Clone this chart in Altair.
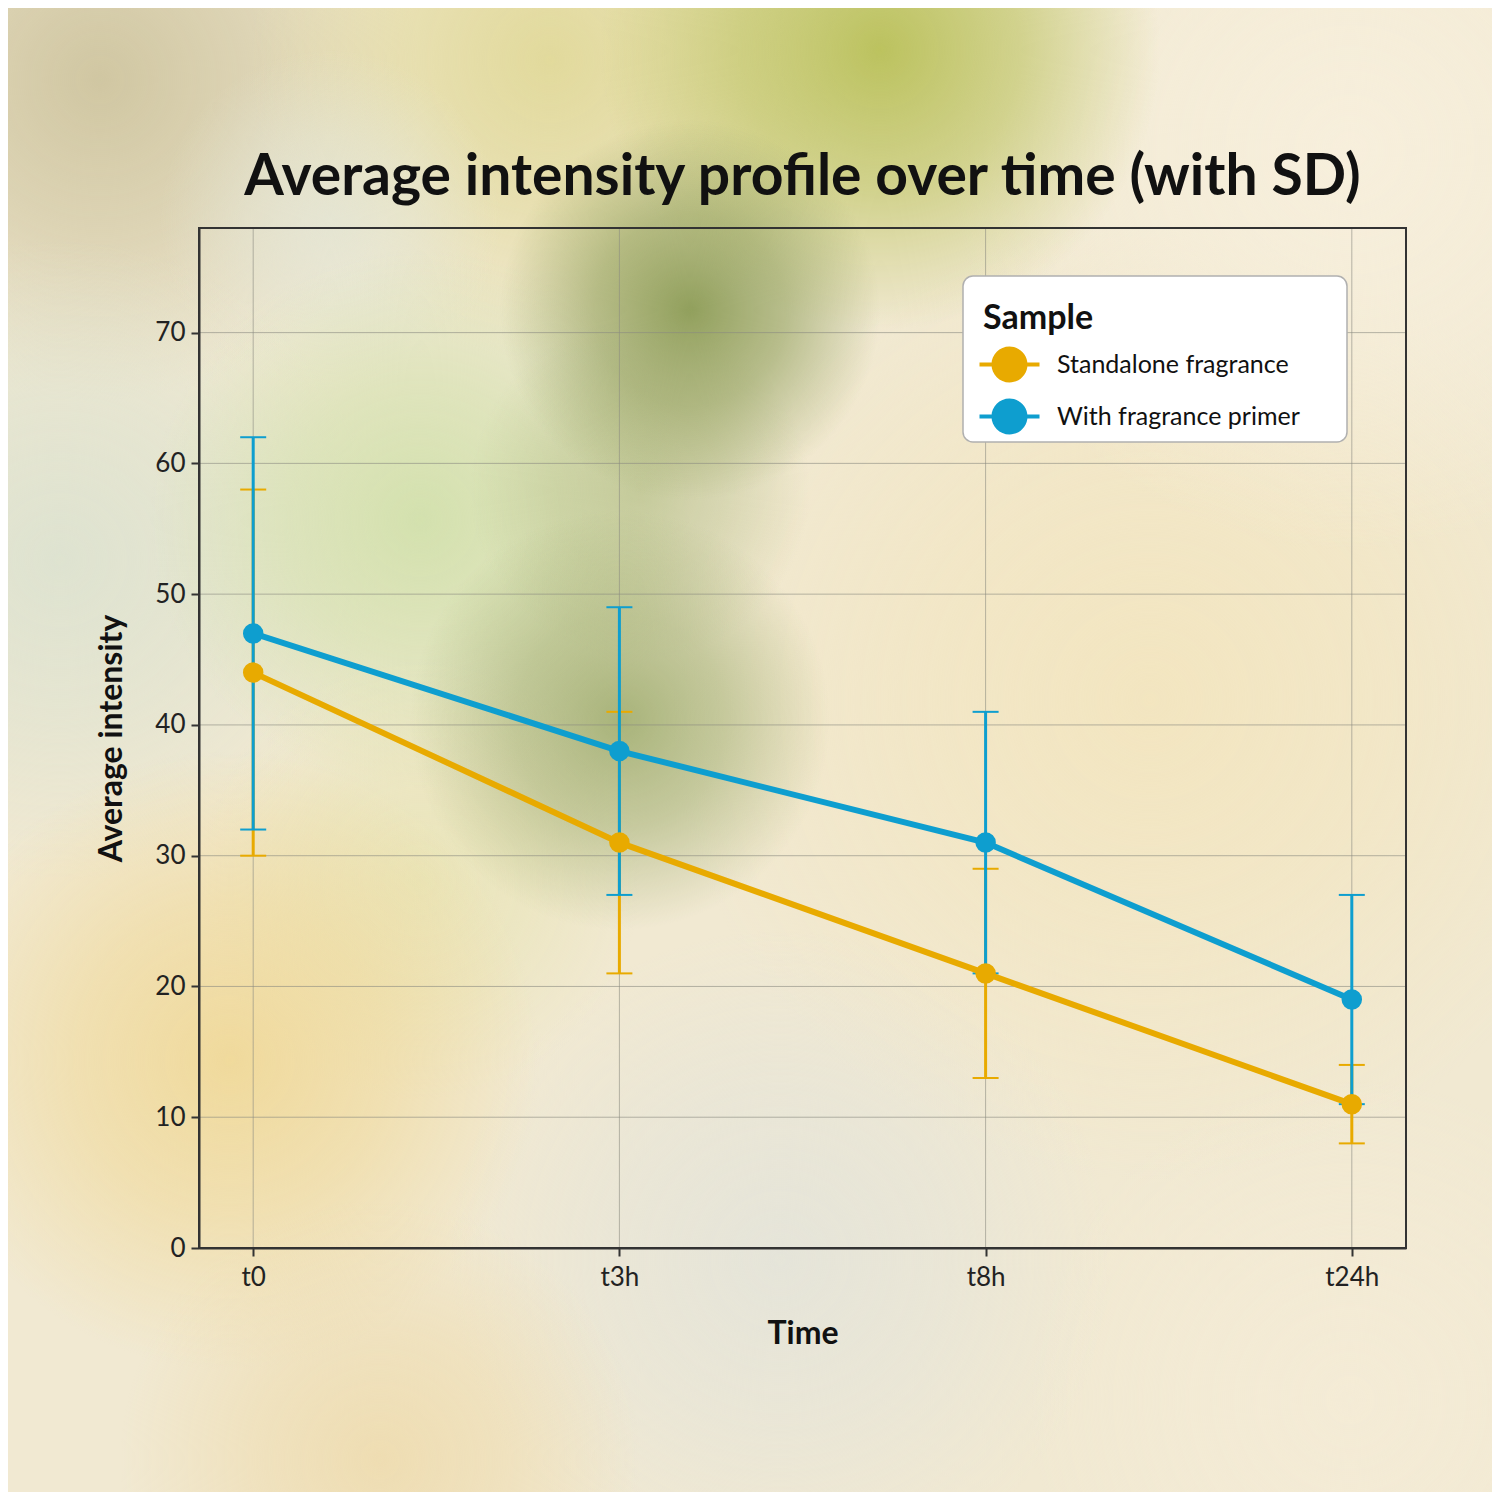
import altair as alt
import pandas as pd

# ---- data ----
title_text = "Average intensity profile over time (with SD)"
times = ["t0", "t3h", "t8h", "t24h"]
samples = ["Standalone fragrance", "With fragrance primer"]
standalone_mean = [44, 31, 21, 11]
standalone_sd = [14, 10, 8, 3]
primer_mean = [47, 38, 31, 19]
primer_sd = [15, 11, 10, 8]
y_ticks = [0, 10, 20, 30, 40, 50, 60, 70]
colors = ["#E8AA00", "#0E9ECF"]

rows = []
for s, means, sds in [(samples[0], standalone_mean, standalone_sd),
                      (samples[1], primer_mean, primer_sd)]:
    for t, m, sd in zip(times, means, sds):
        rows.append({"Time": t, "Sample": s, "mean": m, "lo": m - sd, "hi": m + sd})
df = pd.DataFrame(rows)

# ---- layout ----
W, H = 1207, 1020
PL, PT = 191, 220
PR = 1484 - PL - W
PB = 1484 - PT - H
OX, OY = PL + 8, PT + 8  # page position of plot origin
FONT = "Lato"

x_enc = alt.X("Time:N", sort=times, title="Time",
              scale=alt.Scale(type="point", padding=0.148),
              axis=alt.Axis(labelAngle=0, grid=False, zindex=2))
y_scale = alt.Scale(domain=[0, 78], nice=False, zero=True)
y_enc = alt.Y("mean:Q", title="Average intensity", scale=y_scale,
              axis=alt.Axis(values=y_ticks, grid=False, zindex=2))

# ---- background decoration (blurred photo look) ----
blobs = [
    (1150, 700, 480, "243,229,190", 0.9),
    (1350, 150, 400, "247,239,220", 1.0),
    (1350, 1400, 320, "245,236,215", 0.8),
    (100, 80, 320, "200,190,150", 0.8),
    (550, 60, 300, "224,216,150", 0.9),
    (880, 50, 280, "182,190,82", 0.9),
    (330, 220, 170, "228,230,214", 0.8),
    (60, 560, 320, "220,226,208", 0.9),
    (420, 520, 270, "208,224,170", 0.9),
    (420, 880, 220, "228,226,168", 0.6),
    (640, 490, 170, "165,178,115", 0.55),
    (690, 310, 190, "135,152,80", 0.9),
    (620, 720, 210, "150,166,100", 0.8),
    (230, 1060, 310, "240,216,150", 0.9),
    (780, 1260, 330, "228,228,218", 0.9),
    (380, 1460, 260, "238,218,170", 0.8),
]
one = pd.DataFrame({"k": [0]})
layers = []
for cx, cy, r, rgb, a in blobs:
    grad = {
        "gradient": "radial",
        "x1": 0.5, "y1": 0.5, "r1": 0,
        "x2": 0.5, "y2": 0.5, "r2": 0.5,
        "stops": [
            {"offset": 0, "color": f"rgba({rgb},{a})"},
            {"offset": 0.5, "color": f"rgba({rgb},{a*0.6:.3f})"},
            {"offset": 1, "color": f"rgba({rgb},0)"},
        ],
    }
    layers.append(
        alt.Chart(one).mark_rect(fill=grad, strokeWidth=0).encode(
            x=alt.value(cx - r - OX), x2=alt.value(cx + r - OX),
            y=alt.value(cy - r - OY), y2=alt.value(cy + r - OY),
        )
    )

# ---- grid ----
grid_color = "#8a8a80"
layers.append(
    alt.Chart(pd.DataFrame({"v": y_ticks})).mark_rule(
        color=grid_color, opacity=0.6, strokeWidth=1).encode(
        y=alt.Y("v:Q", scale=y_scale), x=alt.value(0), x2=alt.value(W))
)
layers.append(
    alt.Chart(pd.DataFrame({"Time": times})).mark_rule(
        color=grid_color, opacity=0.6, strokeWidth=1).encode(
        x=x_enc, y=alt.value(0), y2=alt.value(H))
)

# ---- data marks ----
for s, c in zip(samples, colors):
    sub = alt.Chart(df).transform_filter(alt.datum.Sample == s)
    layers.append(sub.mark_rule(strokeWidth=3, color=c).encode(
        x=x_enc, y=alt.Y("lo:Q"), y2="hi:Q"))
    layers.append(sub.mark_tick(thickness=2, size=26, color=c, opacity=1).encode(
        x=x_enc, y=alt.Y("lo:Q")))
    layers.append(sub.mark_tick(thickness=2, size=26, color=c, opacity=1).encode(
        x=x_enc, y=alt.Y("hi:Q")))
for s, c in zip(samples, colors):
    sub = alt.Chart(df).transform_filter(alt.datum.Sample == s)
    layers.append(sub.mark_line(strokeWidth=6, color=c).encode(x=x_enc, y=y_enc))

legend_symbol = ("M-2.4,-0.16H2.4V0.16H-2.4Z "
                 "M1.44,0A1.44,1.44 0 1,1 -1.44,0A1.44,1.44 0 1,1 1.44,0Z")
layers.append(alt.Chart(df).mark_circle(size=420, opacity=1).encode(
    x=x_enc, y=y_enc,
    color=alt.Color("Sample:N", scale=alt.Scale(domain=samples, range=colors),
                    legend=alt.Legend(title="Sample", orient="none",
                                      legendX=764, legendY=54,
                                      symbolType=legend_symbol,
                                      symbolSize=625, symbolStrokeWidth=0,
                                      symbolOpacity=1, symbolOffset=14)),
))

# ---- legend box (drawn under the legend content) ----
layers.append(alt.Chart(one).mark_rect(
    fill="#FFFFFF", stroke="#B0B0B0", strokeWidth=1.5, cornerRadius=10).encode(
    x=alt.value(963 - OX), x2=alt.value(1347 - OX),
    y=alt.value(276 - OY), y2=alt.value(442 - OY)))

# ---- frame on top ----
layers.append(alt.Chart(one).mark_rect(
    fill="transparent", stroke="#333333", strokeWidth=2).encode(
    x=alt.value(0), x2=alt.value(W), y=alt.value(0), y2=alt.value(H)))

# ---- title as text ----
layers.append(alt.Chart(one).mark_text(
    text=title_text, font=FONT, fontSize=57, fontWeight="bold",
    color="#111111", align="center", baseline="alphabetic").encode(
    x=alt.value(W / 2), y=alt.value(195 - OY)))

chart = alt.layer(*layers).properties(
    width=W, height=H,
    autosize="none",
    padding={"left": PL, "top": PT, "right": PR, "bottom": PB},
    background="#F1E9D2",
).configure_view(
    stroke=None, fill=None
).configure_axis(
    labelFont=FONT, labelFontSize=26, labelColor="#222222",
    titleFont=FONT, titleFontSize=32, titleFontWeight="bold", titleColor="#111111",
    domainColor="#333333", domainWidth=2,
    tickColor="#333333", tickWidth=2, tickSize=8,
).configure_axisY(
    labelPadding=6, titlePadding=26,
).configure_axisX(
    labelPadding=8, titlePadding=28,
).configure_legend(
    titleFont=FONT, titleFontSize=34, titleFontWeight="bold", titleColor="#111111",
    labelFont=FONT, labelFontSize=25, labelColor="#111111",
    fillColor="transparent", strokeColor="transparent", padding=20,
    rowPadding=15, labelOffset=35, labelLimit=450, titlePadding=16,
)

chart.save("out.html", embed_options={"renderer": "svg", "actions": False})
